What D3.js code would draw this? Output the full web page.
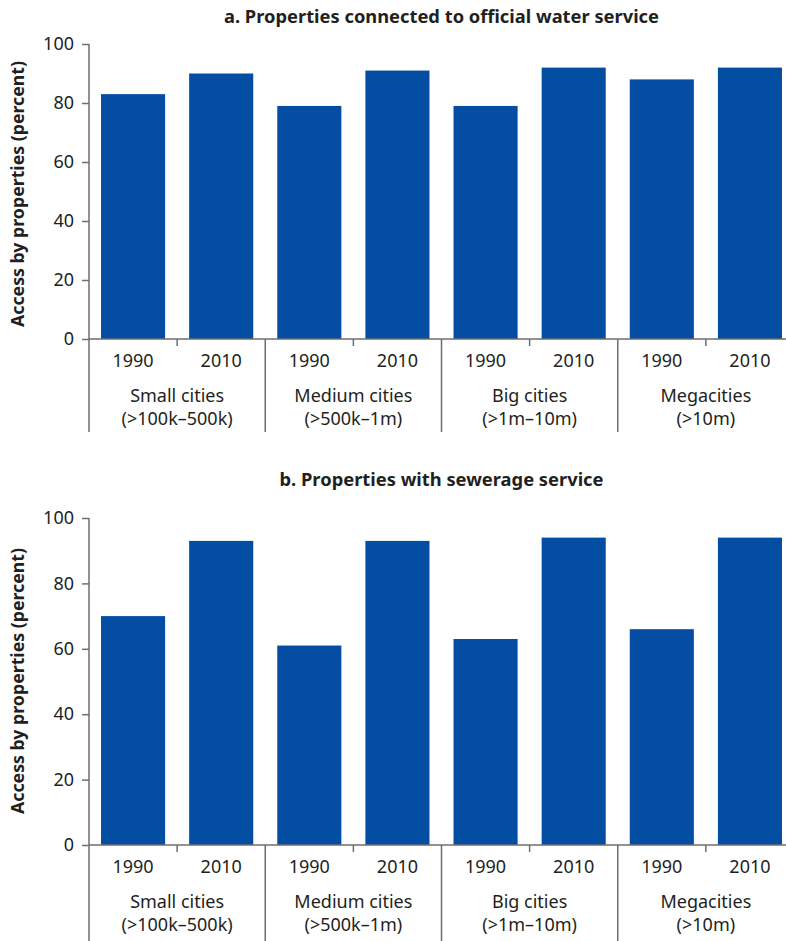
<!DOCTYPE html>
<html>
<head>
<meta charset="utf-8">
<script src="https://cdn.jsdelivr.net/npm/d3@7"></script>
<style>
  html, body { margin: 0; padding: 0; background: #fff; }
  svg { display: block; }
  text { font-family: "Noto Sans", "Open Sans", sans-serif; fill: #231f20; }
</style>
</head>
<body>
<svg id="chart" width="786" height="941"></svg>
<script>
// Access to services by city size, 1990 vs 2010
const years = ["1990", "2010"];
const groups = ["Small cities", "Medium cities", "Big cities", "Megacities"];
const groupRanges = ["(>100k\u2013500k)", "(>500k\u20131m)", "(>1m\u201310m)", "(>10m)"];
const waterValues = [83, 90, 79, 91, 79, 92, 88, 92];
const sewerValues = [70, 93, 61, 93, 63, 94, 66, 94];
const yTicks = [0, 20, 40, 60, 80, 100];
const yLabel = "Access by properties (percent)";
const titleA = "a. Properties connected to official water service";
const titleB = "b. Properties with sewerage service";

const barColor = "#034ea2";
const axisColor = "#6d6e71";
const labelSize = "18px";

const svg = d3.select("#chart");

// one band per group/year pair
const keys = [];
groups.forEach((g, gi) => years.forEach(y => keys.push(gi + "-" + y)));

function panel(opts) {
  const { values, title, titleY, titleLen, top, bottom, labelCenter, extend } = opts;
  const g = svg.append("g");

  const x = d3.scaleBand()
    .domain(keys)
    .range([89, 794])
    .paddingInner(24 / 88)
    .paddingOuter(12 / 88);
  const y = d3.scaleLinear().domain([0, 100]).range([bottom, top]);
  const step = x.step();
  const x0 = x.range()[0];

  // title, centred over the middle group separator
  g.append("text")
    .attr("x", x0 + 4 * step).attr("y", titleY)
    .attr("text-anchor", "middle")
    .style("font-weight", "bold")
    .style("font-size", "18px")
    .attr("textLength", titleLen)
    .attr("lengthAdjust", "spacingAndGlyphs")
    .text(title);

  // y axis label
  g.append("text")
    .attr("transform", `translate(24,${labelCenter}) rotate(-90)`)
    .attr("text-anchor", "middle")
    .style("font-weight", "bold")
    .style("font-size", "17px")
    .attr("textLength", 266)
    .attr("lengthAdjust", "spacingAndGlyphs")
    .text(yLabel);

  // bars
  g.selectAll("rect.bar")
    .data(values)
    .join("rect")
    .attr("class", "bar")
    .attr("x", (d, i) => x(keys[i]))
    .attr("width", x.bandwidth())
    .attr("y", d => y(d))
    .attr("height", d => y(0) - y(d))
    .attr("fill", barColor);

  // y axis
  const yAxis = g.append("g")
    .attr("transform", `translate(${x0},0)`)
    .call(d3.axisLeft(y).tickValues(yTicks).tickSize(7).tickPadding(8));
  yAxis.select(".domain").remove();
  yAxis.selectAll(".tick line").attr("stroke", axisColor).attr("stroke-width", 1.5);
  yAxis.selectAll(".tick text")
    .style("font-size", labelSize)
    .style("font-family", "'Noto Sans', 'Open Sans', sans-serif")
    .attr("fill", "#231f20");

  // vertical axis line running through the category label area
  g.append("line")
    .attr("x1", x0).attr("x2", x0)
    .attr("y1", y(100)).attr("y2", bottom + extend)
    .attr("stroke", axisColor).attr("stroke-width", 1.5);

  // baseline
  g.append("line")
    .attr("x1", x0).attr("x2", 786)
    .attr("y1", y(0)).attr("y2", y(0))
    .attr("stroke", axisColor).attr("stroke-width", 1.5);

  // year labels
  const xAxis = g.append("g")
    .attr("transform", `translate(0,${bottom})`)
    .call(d3.axisBottom(x).tickSize(0).tickPadding(15).tickFormat(k => k.split("-")[1]));
  xAxis.select(".domain").remove();
  xAxis.selectAll(".tick text")
    .style("font-size", labelSize)
    .style("font-family", "'Noto Sans', 'Open Sans', sans-serif")
    .attr("fill", "#231f20");

  groups.forEach((name, gi) => {
    const mid = x0 + (2 * gi + 1) * step;
    // small tick between the two years
    g.append("line")
      .attr("x1", mid).attr("x2", mid)
      .attr("y1", bottom).attr("y2", bottom + 7)
      .attr("stroke", axisColor).attr("stroke-width", 1.5);
    // group separators
    if (gi > 0) {
      const sep = x0 + 2 * gi * step;
      g.append("line")
        .attr("x1", sep).attr("x2", sep)
        .attr("y1", bottom).attr("y2", bottom + extend)
        .attr("stroke", axisColor).attr("stroke-width", 1.5);
    }
    g.append("text")
      .attr("x", mid).attr("y", bottom + 63)
      .attr("text-anchor", "middle")
      .style("font-size", labelSize)
      .text(name);
    g.append("text")
      .attr("x", mid).attr("y", bottom + 86)
      .attr("text-anchor", "middle")
      .style("font-size", labelSize)
      .text(groupRanges[gi]);
  });
}

panel({ values: waterValues, title: titleA, titleY: 23, titleLen: 435,
        top: 44, bottom: 339, labelCenter: 194, extend: 93 });
panel({ values: sewerValues, title: titleB, titleY: 486, titleLen: 324,
        top: 518, bottom: 845, labelCenter: 681, extend: 96 });
</script>
</body>
</html>
